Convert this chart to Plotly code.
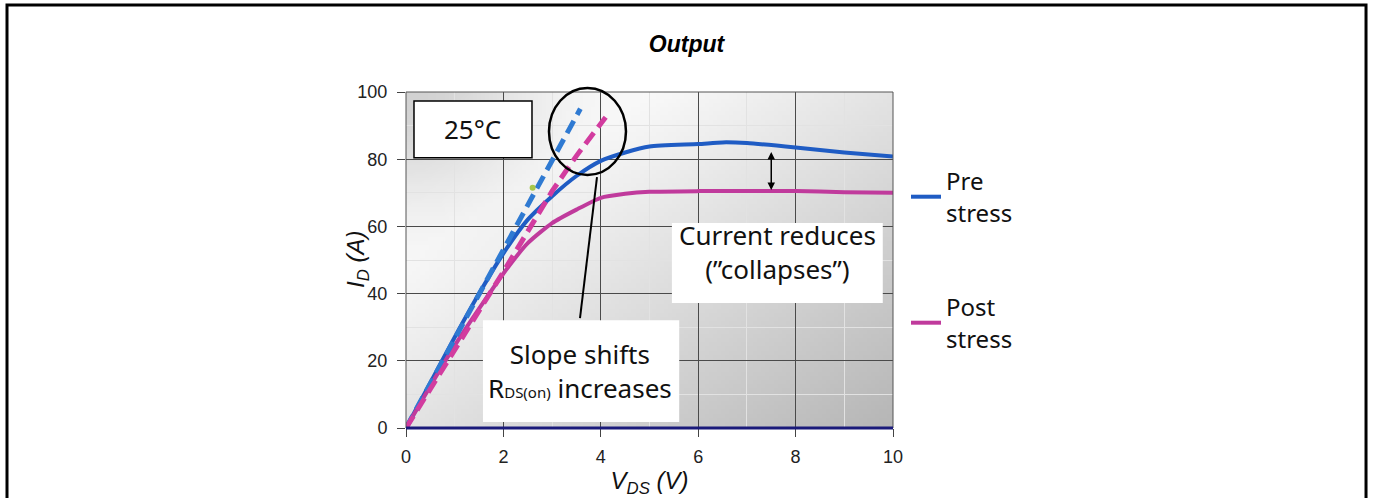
import zlib, struct, base64, math
import plotly.graph_objects as go

# ---------------- data ----------------
pre_v = [0, 0.5, 1, 1.5, 2, 2.5, 3, 3.5, 4, 4.5, 5, 6, 6.5, 7, 8, 9, 10]
pre_i = [0, 13.5, 27, 40, 52, 62, 69, 75, 79.5, 82, 83.8, 84.5, 85, 84.8, 83.5, 82, 80.8]

post_v = [0, 0.5, 1, 1.5, 2, 2.5, 3, 3.5, 4, 4.5, 5, 6, 7, 8, 9, 10]
post_i = [0, 12.5, 24.5, 35.5, 46, 55, 61, 65, 68.5, 69.7, 70.3, 70.5, 70.5, 70.5, 70.2, 70]

pre_slope_v = [0, 1, 2, 3, 3.58]
pre_slope_i = [0, 26.5, 53, 79.5, 95]

post_slope_v = [0, 1, 2, 3, 3.5, 4.1]
post_slope_i = [0, 23, 46.5, 70.5, 81, 92.5]

mark_v = [2.6]
mark_i = [71.5]

x_ticks = [0, 2, 4, 6, 8, 10]
y_ticks = [0, 20, 40, 60, 80, 100]

# ---------------- background gradient image ----------------
def png_uri(rows, w, h):
    raw = b''.join(b'\x00' + bytes(r) for r in rows)
    def chunk(t, d):
        c = struct.pack('>I', len(d)) + t + d
        return c + struct.pack('>I', zlib.crc32(t + d) & 0xffffffff)
    png = (b'\x89PNG\r\n\x1a\n'
           + chunk(b'IHDR', struct.pack('>IIBBBBB', w, h, 8, 2, 0, 0, 0))
           + chunk(b'IDAT', zlib.compress(raw))
           + chunk(b'IEND', b''))
    return 'data:image/png;base64,' + base64.b64encode(png).decode()

W, H = 120, 80
rows = []
for j in range(H):
    row = []
    I = 100 - j / (H - 1) * 100
    for i in range(W):
        V = i / (W - 1) * 10
        t = max(0.0, (V / 10) * 0.6 + (1 - I / 100) * 0.6 - 0.3)
        b = 250 - 75 * t
        b -= 40 * math.exp(-((V / 2.5) ** 2 + ((100 - I) / 30) ** 2))
        b = int(max(0, min(255, b)))
        row += [b, b, b]
    rows.append(row)
bg_uri = png_uri(rows, W, H)

BLUE = '#1f5cc4'
MAG = '#c03a9c'
BLUE_D = '#2f7ad2'
MAG_D = '#d23c9f'
TXT = 'Noto Sans'

fig = go.Figure()
fig.add_trace(go.Scatter(x=pre_v, y=pre_i, mode='lines', name='Pre<br>stress',
                         line=dict(color=BLUE, width=4, shape='spline', smoothing=0.6),
                         legend='legend'))
fig.add_trace(go.Scatter(x=post_v, y=post_i, mode='lines', name='Post<br>stress',
                         line=dict(color=MAG, width=4, shape='spline', smoothing=0.6),
                         legend='legend2'))
fig.add_trace(go.Scatter(x=pre_slope_v, y=pre_slope_i, mode='lines', showlegend=False,
                         line=dict(color=BLUE_D, width=5, dash='14px,7px')))
fig.add_trace(go.Scatter(x=post_slope_v, y=post_slope_i, mode='lines', showlegend=False,
                         line=dict(color=MAG_D, width=5, dash='14px,7px')))
fig.add_trace(go.Scatter(x=mark_v, y=mark_i, mode='markers', showlegend=False,
                         marker=dict(color='#a8c84a', size=6)))

fig.add_layout_image(dict(source=bg_uri, xref='x', yref='y', x=0, y=100, sizex=10, sizey=100,
                          xanchor='left', yanchor='top', sizing='stretch', layer='below'))

shapes = []
# outer frame
shapes.append(dict(type='rect', xref='paper', yref='paper', x0=-0.8193, x1=1.9713, y0=-0.30, y1=1.2589,
                   line=dict(color='black', width=3), fillcolor='rgba(0,0,0,0)', layer='above'))
# plot border
shapes.append(dict(type='rect', xref='paper', yref='paper', x0=0, x1=1, y0=0, y1=1,
                   line=dict(color='#555555', width=1), layer='above'))
# 25C box
shapes.append(dict(type='rect', xref='x', yref='y', x0=0.164, x1=2.587, y0=80.4, y1=97.3,
                   line=dict(color='black', width=1.5), fillcolor='white', layer='above'))
# current reduces box
shapes.append(dict(type='rect', xref='x', yref='y', x0=5.46, x1=9.79, y0=37.2, y1=61.0,
                   line=dict(width=0), fillcolor='white', layer='above'))
# slope shifts box
shapes.append(dict(type='rect', xref='x', yref='y', x0=1.58, x1=5.61, y0=1.8, y1=32.1,
                   line=dict(width=0), fillcolor='white', layer='above'))
# ellipse
shapes.append(dict(type='circle', xref='paper', yref='paper', x0=0.2936, x1=0.4517, y0=0.753, y1=1.0119,
                   line=dict(color='black', width=2.5), layer='above'))
# pointer line
shapes.append(dict(type='line', xref='paper', yref='paper', x0=0.3922, y0=0.747, x1=0.3573, y1=0.327,
                   line=dict(color='black', width=2), layer='above'))
# x axis navy line
shapes.append(dict(type='line', xref='paper', yref='paper', x0=0, x1=1, y0=0, y1=0,
                   line=dict(color='#1a1a7a', width=3), layer='above'))

annotations = [
    dict(x=1.37, y=88.9, xref='x', yref='y', text='25°C', showarrow=False,
         font=dict(family=TXT, size=26, color='#111')),
    dict(x=7.63, y=52.5, xref='x', yref='y', text='Current reduces<br>(”collapses”)', showarrow=False,
         font=dict(family=TXT, size=26, color='#111')),
    dict(x=3.57, y=17.1, xref='x', yref='y',
         text="Slope shifts<br>R<span style='font-size:15px'>DS(on)</span> increases", showarrow=False,
         font=dict(family=TXT, size=26, color='#111')),
    dict(x=7.5, y=70.8, ax=7.5, ay=82.6, xref='x', yref='y', axref='x', ayref='y', text='',
         showarrow=True, arrowhead=2, startarrowhead=2, arrowside='end+start', arrowsize=1,
         arrowwidth=1.5, arrowcolor='black', standoff=0, startstandoff=0),
    # y-axis title (placed close to the tick labels as in the reference)
    dict(x=-0.1006, y=0.5, xref='paper', yref='paper', text='<i>I<sub>D</sub> (A)</i>',
         textangle=-90, showarrow=False, xanchor='center', yanchor='middle',
         font=dict(family='Liberation Sans', size=24, color='#111')),
]

fig.update_layout(
    width=1373, height=498, autosize=False,
    margin=dict(l=406, r=480, t=92, b=70),
    paper_bgcolor='white', plot_bgcolor='#e6e6e6',
    title=dict(text='<b><i>Output</i></b>', x=0.5, xref='container', xanchor='center',
               y=1 - 44 / 498, yref='container', yanchor='middle',
               font=dict(family='Liberation Sans', size=23, color='black')),
    shapes=shapes, annotations=annotations,
    legend=dict(x=1.0267, y=0.6875, xanchor='left', yanchor='middle', bgcolor='rgba(0,0,0,0)',
                font=dict(family=TXT, size=24, color='#111'), itemwidth=30),
    legend2=dict(x=1.0267, y=0.3125, xanchor='left', yanchor='middle', bgcolor='rgba(0,0,0,0)',
                 font=dict(family=TXT, size=24, color='#111'), itemwidth=30),
    xaxis=dict(range=[0, 10], tickvals=x_ticks, ticks='outside', ticklen=8, tickcolor='#444',
               showgrid=True, gridcolor='#4a4a4a', gridwidth=1, zeroline=False, showline=False,
               ticklabelstandoff=4, automargin=False,
               minor=dict(dtick=1, showgrid=True, gridcolor='#e2e2e2', gridwidth=1),
               tickfont=dict(family='Liberation Sans', size=18, color='#222'),
               title=dict(text='<i>V<sub>DS</sub> (V)</i>', standoff=6,
                          font=dict(family='Liberation Sans', size=24, color='#111'))),
    yaxis=dict(range=[0, 100], tickvals=y_ticks, ticks='outside', ticklen=8, tickcolor='#444',
               showgrid=True, gridcolor='#4a4a4a', gridwidth=1, zeroline=False, showline=False,
               ticklabelstandoff=6, automargin=False,
               minor=dict(dtick=10, showgrid=True, gridcolor='#e2e2e2', gridwidth=1),
               tickfont=dict(family='Liberation Sans', size=18, color='#222')),
)

fig.write_html('out.html', config={'displayModeBar': False},
               post_script="document.body.style.margin='0';document.body.style.overflow='hidden';")
